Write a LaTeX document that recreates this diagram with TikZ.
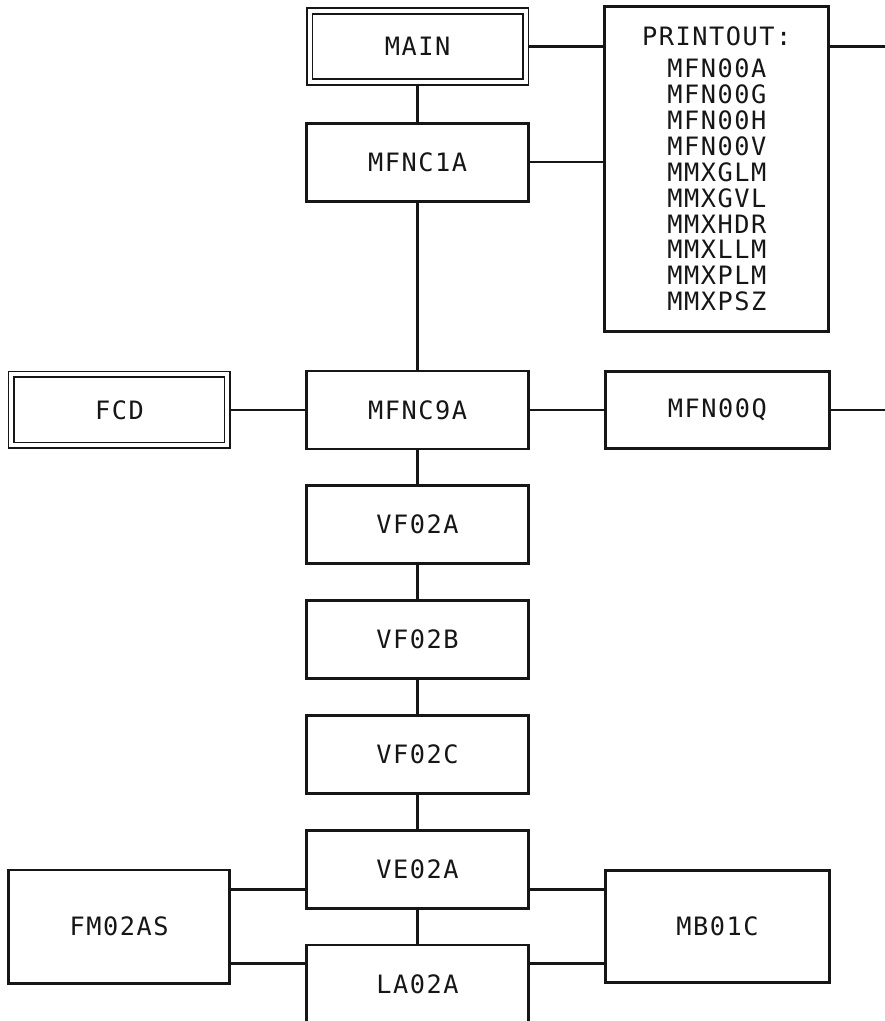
\documentclass[tikz,border=0pt]{standalone}
\usepackage{fontspec}
\newfontfamily\plotfont[LetterSpace=6]{DejaVu Sans Mono}
\usetikzlibrary{positioning,calc}
\definecolor{chartInk}{HTML}{161616}
\tikzset{
  chart/base/.style={draw=chartInk, line width=2pt, align=center,
    font=\plotfont\fontsize{18}{18.4}\selectfont, text=chartInk,
    inner sep=0pt},
  chart/module/.style={chart/base, minimum width=5.55cm, minimum height=1.95cm},
  chart/entry/.style={chart/base, double, double distance=0.1cm,
    line width=0.045cm, outer sep=0.095cm,
    minimum width=5.4cm, minimum height=1.775cm},
  chart/side/.style={chart/base, minimum width=5.6cm, minimum height=1.93cm},
  chart/link/.style={draw=chartInk, line width=1.6pt},
}

\begin{document}
\begin{tikzpicture}[node distance=0.85cm and 1.85cm]
\useasboundingbox (0,0) rectangle (22.1,-25.525);
% main calling chain
\node[chart/entry] (main) at (10.44,-1.16) {MAIN};
\node[chart/module, below=0.9cm of main] (mfnc1a) {MFNC1A};
\node[chart/module, below=4.175cm of mfnc1a] (mfnc9a) {MFNC9A};
\node[chart/module, below=of mfnc9a] (vf02a) {VF02A};
\node[chart/module, below=of vf02a] (vf02b) {VF02B};
\node[chart/module, below=of vf02b] (vf02c) {VF02C};
\node[chart/module, below=of vf02c] (ve02a) {VE02A};
\node[chart/module, below=of ve02a] (la02a) {LA02A};
% side modules
\node[chart/side, right=of main.north east, anchor=north west,
  yshift=0.05cm, minimum height=8.13cm] (printout)
  {PRINTOUT:\\[0.15cm]MFN00A\\MFN00G\\MFN00H\\MFN00V\\MMXGLM\\MMXGVL\\MMXHDR\\MMXLLM\\MMXPLM\\MMXPSZ};
\node[chart/side, right=of mfnc9a] (mfn00q) {MFN00Q};
\node[chart/entry, left=of mfnc9a] (fcd) {FCD};
\node[chart/module, minimum width=5.53cm, minimum height=2.83cm,
  left=of {$(ve02a.south west)!0.5!(la02a.north west)$}] (fm02as) {FM02AS};
\node[chart/side, minimum height=2.8cm,
  right=of {$(ve02a.south east)!0.5!(la02a.north east)$}] (mb01c) {MB01C};
\coordinate (rim) at (22.2,0);
\coordinate (veLow) at ([yshift=0.5cm]ve02a.south west);
\coordinate (laHigh) at ([yshift=-0.5cm]la02a.north west);
% connectors
\draw[chart/link] (main) -- (mfnc1a);
\draw[chart/link] (mfnc1a) -- (mfnc9a);
\draw[chart/link] (mfnc9a) -- (vf02a);
\draw[chart/link] (vf02a) -- (vf02b);
\draw[chart/link] (vf02b) -- (vf02c);
\draw[chart/link] (vf02c) -- (ve02a);
\draw[chart/link] (ve02a) -- (la02a);
\draw[chart/link] (main) -- (printout.west |- main);
\draw[chart/link] (mfnc1a) -- (printout.west |- mfnc1a);
\draw[chart/link] (printout.east |- main) -- (rim |- main);
\draw[chart/link] (fcd) -- (mfnc9a);
\draw[chart/link] (mfnc9a) -- (mfn00q);
\draw[chart/link] (mfn00q) -- (rim |- mfn00q);
\draw[chart/link] (veLow) -- (veLow -| fm02as.east);
\draw[chart/link] (laHigh) -- (laHigh -| fm02as.east);
\draw[chart/link] (ve02a.east |- veLow) -- (mb01c.west |- veLow);
\draw[chart/link] (la02a.east |- laHigh) -- (mb01c.west |- laHigh);
\end{tikzpicture}
\end{document}
